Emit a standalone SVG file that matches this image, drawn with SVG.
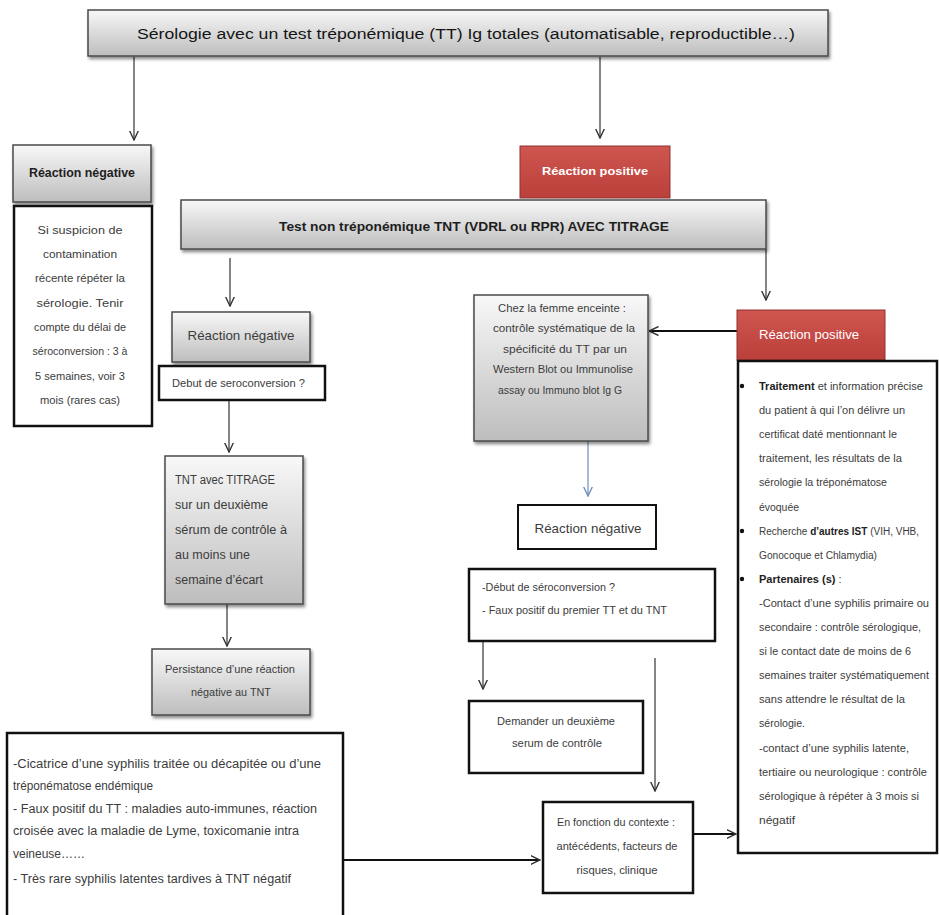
<svg xmlns="http://www.w3.org/2000/svg" width="939" height="915" viewBox="0 0 939 915">
<defs>
<linearGradient id="gray" x1="0" y1="0" x2="0" y2="1"><stop offset="0" stop-color="#f8f8f8"/><stop offset="1" stop-color="#bdbdbd"/></linearGradient>
<linearGradient id="red" x1="0" y1="0" x2="0" y2="1"><stop offset="0" stop-color="#cf5650"/><stop offset="1" stop-color="#bb3f3a"/></linearGradient>
<filter id="sh" x="-5%" y="-5%" width="115%" height="125%"><feDropShadow dx="1.5" dy="2.5" stdDeviation="1.5" flood-color="#000" flood-opacity="0.45"/></filter>
<marker id="ar" viewBox="0 0 10 10" refX="9.5" refY="5" markerWidth="10" markerHeight="10" markerUnits="userSpaceOnUse" orient="auto"><path d="M0,0.5 L9.5,5 L0,9.5" fill="none" stroke="#333" stroke-width="1.4"/></marker>
<marker id="arb" viewBox="0 0 10 10" refX="9.5" refY="5" markerWidth="10" markerHeight="10" markerUnits="userSpaceOnUse" orient="auto"><path d="M0,0.5 L9.5,5 L0,9.5" fill="none" stroke="#6f8fba" stroke-width="1.4"/></marker>
<style>
text{font-family:"Liberation Sans",Arial,sans-serif;fill:#3c3c3c;font-size:11px}
.hd{font-weight:bold;fill:#1e1e1e}
.b{font-weight:bold;fill:#222}
.c{text-anchor:middle}
.wt{fill:#fff}
.gbox{fill:url(#gray);stroke:#4a4a4a;stroke-width:1.5;filter:url(#sh)}
.rbox{fill:url(#red);stroke:#8e3330;stroke-width:1}
.wbox{fill:#fff;stroke:#111;stroke-width:2.5}
.ln{fill:none;stroke:#333;stroke-width:1.2;marker-end:url(#ar)}
.lnb{fill:none;stroke:#111;stroke-width:2;marker-end:url(#ar)}
.t10{font-size:10px}
.t115{font-size:11.5px}
.t12{font-size:12px}
.t125{font-size:12.5px}
.t13{font-size:13px}
.t135{font-size:13.5px}
.t155{font-size:15.5px}
</style>
</defs>
<rect width="939" height="915" fill="#fff"/>

<g id="connectors">
<path class="ln" d="M134,57 V140"/>
<path class="ln" d="M600,57 V138"/>
<path class="ln" d="M230,258 V306"/>
<path class="ln" d="M766,249 V300"/>
<path class="ln" d="M229,400 V452"/>
<path class="ln" d="M227,604 V646"/>
<path class="lnb" d="M737,331 H649"/>
<path d="M588,441 V496" fill="none" stroke="#6f8fba" stroke-width="1.2" marker-end="url(#arb)"/>
<path class="ln" d="M483,641 V689"/>
<path class="ln" d="M655,658 V791"/>
<path class="lnb" d="M343,860 H540"/>
<path class="lnb" d="M693,834 H736"/>
</g>

<g id="n-top">
<rect class="gbox" x="88" y="10" width="740" height="46"/>
<text x="466" y="39" textLength="658" lengthAdjust="spacingAndGlyphs" class="c t155" style="fill:#151515">Sérologie avec un test tréponémique (TT) Ig totales (automatisable, reproductible…)</text>
</g>

<g id="n-neg1">
<rect class="gbox" x="13" y="145" width="138" height="57"/>
<text x="82" y="177" class="hd c t12" textLength="106" lengthAdjust="spacingAndGlyphs">Réaction négative</text>
</g>

<g id="n-neg1-txt">
<rect class="wbox" x="14" y="206" width="138" height="220"/>
<text class="c" x="80" y="234" textLength="85" lengthAdjust="spacingAndGlyphs">Si suspicion de</text>
<text class="c" x="80" y="258" textLength="74" lengthAdjust="spacingAndGlyphs">contamination</text>
<text class="c" x="80" y="282" textLength="90" lengthAdjust="spacingAndGlyphs">récente répéter la</text>
<text class="c" x="80" y="307" textLength="87" lengthAdjust="spacingAndGlyphs">sérologie.  Tenir</text>
<text class="c" x="80" y="331" textLength="92" lengthAdjust="spacingAndGlyphs">compte du délai de</text>
<text class="c" x="80" y="355" textLength="95" lengthAdjust="spacingAndGlyphs">séroconversion : 3 à</text>
<text class="c" x="80" y="380" textLength="90" lengthAdjust="spacingAndGlyphs">5 semaines, voir 3</text>
<text class="c" x="80" y="404" textLength="80" lengthAdjust="spacingAndGlyphs">mois (rares cas)</text>
</g>

<g id="n-pos1">
<rect class="rbox" x="520" y="146" width="150" height="52"/>
<text class="c hd t115 wt" x="595" y="175" textLength="106" lengthAdjust="spacingAndGlyphs">Réaction positive</text>
</g>

<g id="n-tnt">
<rect class="gbox" x="181" y="200" width="585" height="49"/>
<text class="hd c t135" x="474" y="231" textLength="390" lengthAdjust="spacingAndGlyphs">Test non tréponémique TNT (VDRL ou RPR) AVEC TITRAGE</text>
</g>

<g id="n-neg2">
<rect class="gbox" x="172" y="312" width="138" height="50"/>
<text class="c t135" x="241" y="340" textLength="107" lengthAdjust="spacingAndGlyphs">Réaction négative</text>
</g>

<g id="n-debut1">
<rect class="wbox" x="159" y="366" width="166" height="34"/>
<text x="172" y="387" textLength="133" lengthAdjust="spacingAndGlyphs">Debut de seroconversion ?</text>
</g>

<g id="n-tnt2">
<rect class="gbox" x="165" y="456" width="138" height="148"/>
<text class="t125" x="175" y="484" textLength="100" lengthAdjust="spacingAndGlyphs">TNT avec TITRAGE</text>
<text class="t125" x="175" y="509" textLength="93" lengthAdjust="spacingAndGlyphs">sur un deuxième</text>
<text class="t125" x="175" y="534" textLength="112" lengthAdjust="spacingAndGlyphs">sérum de contrôle à</text>
<text class="t125" x="175" y="559" textLength="75" lengthAdjust="spacingAndGlyphs">au moins une</text>
<text class="t125" x="175" y="584" textLength="88" lengthAdjust="spacingAndGlyphs">semaine d’écart</text>
</g>

<g id="n-persist">
<rect class="gbox" x="152" y="649" width="158" height="66"/>
<text class="c" x="230" y="673" textLength="130" lengthAdjust="spacingAndGlyphs">Persistance d’une réaction</text>
<text class="c" x="231" y="696" textLength="80" lengthAdjust="spacingAndGlyphs">négative au TNT</text>
</g>

<g id="n-cicatrice">
<rect class="wbox" x="7" y="733" width="336" height="200"/>
<text class="t125" x="13" y="768" textLength="308" lengthAdjust="spacingAndGlyphs">-Cicatrice d’une syphilis traitée ou décapitée ou d’une</text>
<text class="t125" x="13" y="790" textLength="140" lengthAdjust="spacingAndGlyphs">tréponématose endémique</text>
<text class="t125" x="13" y="813" textLength="304" lengthAdjust="spacingAndGlyphs">- Faux positif du TT : maladies auto-immunes, réaction</text>
<text class="t125" x="13" y="835" textLength="286" lengthAdjust="spacingAndGlyphs">croisée avec la maladie de Lyme, toxicomanie intra</text>
<text class="t125" x="13" y="858" textLength="72" lengthAdjust="spacingAndGlyphs">veineuse……</text>
<text class="t125" x="13" y="883" textLength="278" lengthAdjust="spacingAndGlyphs">- Très rare syphilis latentes tardives à TNT négatif</text>
</g>

<g id="n-chez">
<rect class="gbox" x="474" y="295" width="174" height="146"/>
<text class="c t115" x="562" y="312" textLength="128" lengthAdjust="spacingAndGlyphs">Chez la femme enceinte :</text>
<text class="c t115" x="564" y="332" textLength="142" lengthAdjust="spacingAndGlyphs">contrôle systématique de la</text>
<text class="c t115" x="565" y="353" textLength="124" lengthAdjust="spacingAndGlyphs">spécificité du TT par un</text>
<text class="c t115" x="563" y="373" textLength="140" lengthAdjust="spacingAndGlyphs">Western Blot ou Immunolise</text>
<text class="c t115" x="560" y="394" textLength="124" lengthAdjust="spacingAndGlyphs">assay ou Immuno blot Ig G</text>
</g>

<g id="n-neg3">
<rect class="wbox" x="518" y="505" width="138" height="44" style="stroke-width:2"/>
<text class="c t135" x="588" y="533" textLength="107" lengthAdjust="spacingAndGlyphs">Réaction négative</text>
</g>

<g id="n-debut2">
<rect class="wbox" x="469" y="569" width="246" height="72"/>
<text x="482" y="591" textLength="133" lengthAdjust="spacingAndGlyphs">-Début de séroconversion ?</text>
<text x="482" y="614" textLength="185" lengthAdjust="spacingAndGlyphs">- Faux positif du premier TT et du TNT</text>
</g>

<g id="n-demander">
<rect class="wbox" x="469" y="701" width="174" height="72"/>
<text class="c" x="556" y="725" textLength="118" lengthAdjust="spacingAndGlyphs">Demander un deuxième</text>
<text class="c" x="557" y="747" textLength="90" lengthAdjust="spacingAndGlyphs">serum de contrôle</text>
</g>

<g id="n-contexte">
<rect class="wbox" x="543" y="802" width="150" height="91"/>
<text class="c" x="616" y="826" textLength="118" lengthAdjust="spacingAndGlyphs">En fonction du contexte :</text>
<text class="c" x="617" y="850" textLength="121" lengthAdjust="spacingAndGlyphs">antécédents, facteurs de</text>
<text class="c" x="617" y="874" textLength="81" lengthAdjust="spacingAndGlyphs">risques, clinique</text>
</g>

<g id="n-pos2">
<rect class="rbox" x="737" y="310" width="148" height="50"/>
<text class="t13 wt" x="759" y="339" textLength="100" lengthAdjust="spacingAndGlyphs">Réaction positive</text>
</g>

<g id="n-traitement">
<rect class="wbox" x="738" y="361" width="199" height="492"/>
<circle cx="742" cy="386" r="2.2" fill="#111"/>
<circle cx="742" cy="531" r="2.2" fill="#111"/>
<circle cx="742" cy="579" r="2.2" fill="#111"/>
<text x="759" y="390"><tspan class="b">Traitement</tspan> et information précise</text>
<text x="759" y="414" textLength="146" lengthAdjust="spacingAndGlyphs">du patient à qui l’on délivre un</text>
<text x="759" y="438" textLength="138" lengthAdjust="spacingAndGlyphs">certificat daté mentionnant le</text>
<text x="759" y="462" textLength="143" lengthAdjust="spacingAndGlyphs">traitement, les résultats de la</text>
<text x="759" y="486" textLength="128" lengthAdjust="spacingAndGlyphs">sérologie la tréponématose</text>
<text x="759" y="511" textLength="40" lengthAdjust="spacingAndGlyphs">évoquée</text>
<text class="t10" x="759" y="535">Recherche <tspan class="b">d’autres IST</tspan> (VIH, VHB,</text>
<text x="759" y="559" textLength="118" lengthAdjust="spacingAndGlyphs">Gonocoque et Chlamydia)</text>
<text x="759" y="583"><tspan class="b">Partenaires (s)</tspan> :</text>
<text x="759" y="607" textLength="170" lengthAdjust="spacingAndGlyphs">-Contact d’une syphilis primaire ou</text>
<text x="759" y="631" textLength="162" lengthAdjust="spacingAndGlyphs">secondaire : contrôle sérologique,</text>
<text x="759" y="655" textLength="152" lengthAdjust="spacingAndGlyphs">si le contact date de moins de 6</text>
<text x="759" y="679" textLength="170" lengthAdjust="spacingAndGlyphs">semaines traiter systématiquement</text>
<text x="759" y="703" textLength="146" lengthAdjust="spacingAndGlyphs">sans attendre le résultat de la</text>
<text x="759" y="727" textLength="46" lengthAdjust="spacingAndGlyphs">sérologie.</text>
<text x="759" y="752" textLength="150" lengthAdjust="spacingAndGlyphs">-contact d’une syphilis latente,</text>
<text x="759" y="776" textLength="168" lengthAdjust="spacingAndGlyphs">tertiaire ou neurologique : contrôle</text>
<text x="759" y="800" textLength="160" lengthAdjust="spacingAndGlyphs">sérologique à répéter à 3 mois si</text>
<text x="759" y="824" textLength="36" lengthAdjust="spacingAndGlyphs">négatif</text>
</g>
</svg>
